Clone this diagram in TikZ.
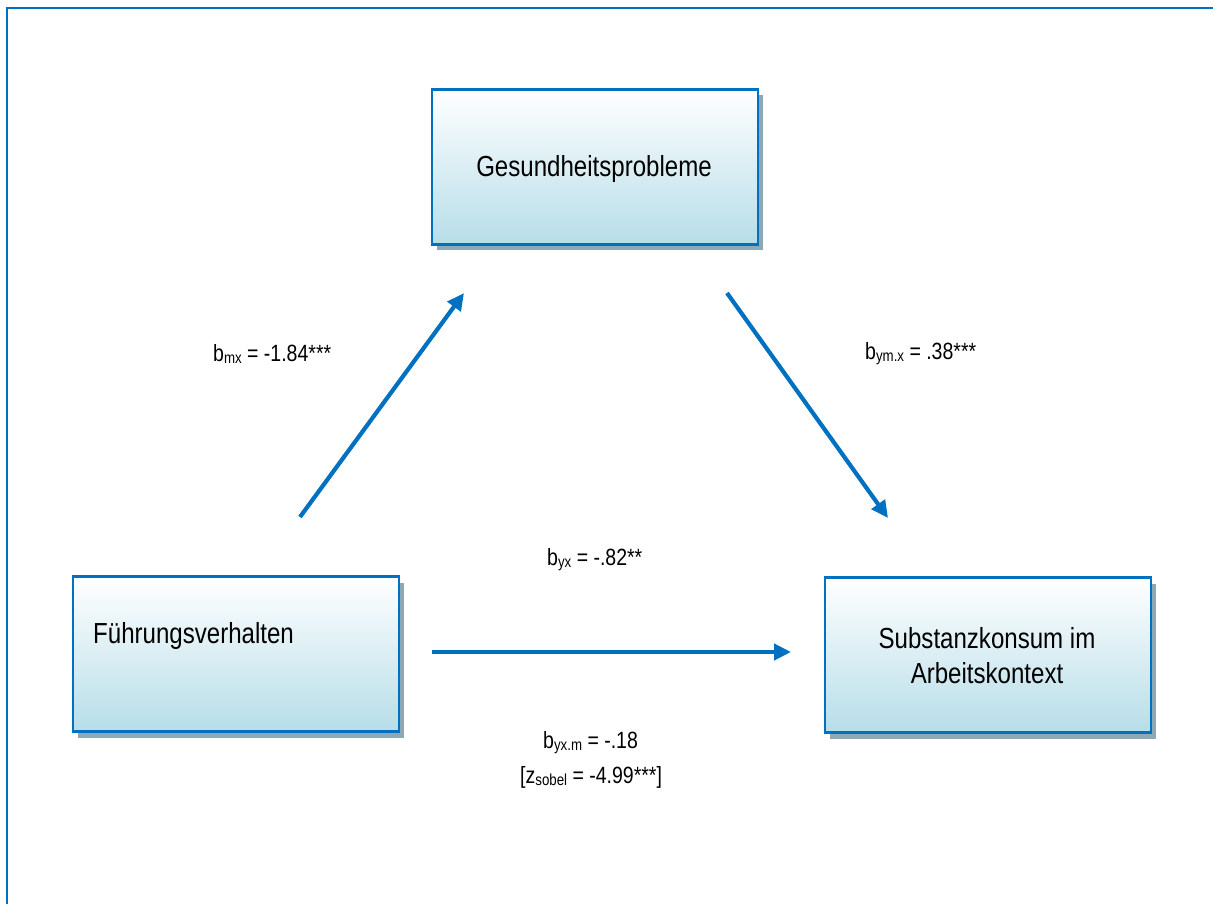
\documentclass[tikz,border=0pt]{standalone}
\usepackage{fontspec}
\setmainfont[FakeStretch=0.83]{Liberation Sans}
\usetikzlibrary{arrows.meta,shadows}
\definecolor{lineblue}{HTML}{0070C0}
\definecolor{boxblue}{HTML}{B7DDE8}
\definecolor{shadowc}{HTML}{8FA9B4}
\tikzset{
 box/.style={draw=lineblue, line width=2.6pt, minimum width=326pt, minimum height=155pt,
   top color=white, bottom color=boxblue, inner sep=0pt,
   drop shadow={shadow xshift=5pt, shadow yshift=-6pt, fill=shadowc, opacity=1, draw=none}},
 boxtext/.style={font=\fontsize{29}{35}\selectfont, inner sep=0pt},
 coef/.style={font=\fontsize{23.5}{28}\selectfont, inner sep=0pt, anchor=base west},
 arr/.style={draw=lineblue, line width=4.2pt, -{Triangle[length=17pt,width=16pt]}},
}
\newcommand\lowsub[1]{\raisebox{-0.12em}{\fontsize{16}{18}\selectfont #1}}
\begin{document}
\begin{tikzpicture}[x=1pt,y=-1pt]
\useasboundingbox (0,0) rectangle (1213,904);
\draw[lineblue, line width=2.4pt] (7,930) -- (7,8) -- (1230,8);
% boxes
\node[box] (gp) at (595,167) {};
\node[box] (fv) at (236,654) {};
\node[box] (sk) at (988,655) {};
% box texts
\node[boxtext, anchor=base] (gptext) at (594,177) {Gesundheitsprobleme};
\node[boxtext, anchor=base west] (fvtext) at (93,643) {Führungsverhalten};
\node[boxtext, anchor=base] (sktext1) at (987,648) {Substanzkonsum im};
\node[boxtext, anchor=base] (sktext2) at (987,683) {Arbeitskontext};
% arrows
\coordinate (a1s) at (300,517);
\coordinate (a1e) at (464,293);
\coordinate (a2s) at (727,293);
\coordinate (a2e) at (888,518);
\coordinate (a3s) at (432,652);
\coordinate (a3e) at (791,652);
\draw[arr] (a1s) -- (a1e);
\draw[arr] (a2s) -- (a2e);
\draw[arr] (a3s) -- (a3e);
% coefficients
\node[coef] (lmx) at (213,361) {b\lowsub{mx} = -1.84***};
\node[coef] (lymx) at (865,359) {b\lowsub{ym.x} = .38***};
\node[coef] (lyx) at (547,565) {b\lowsub{yx} = -.82**};
\node[coef] (lyxm) at (543,748) {b\lowsub{yx.m} = -.18};
\node[coef] (lz) at (520,783) {[z\lowsub{sobel} = -4.99***]};
\end{tikzpicture}
\end{document}
